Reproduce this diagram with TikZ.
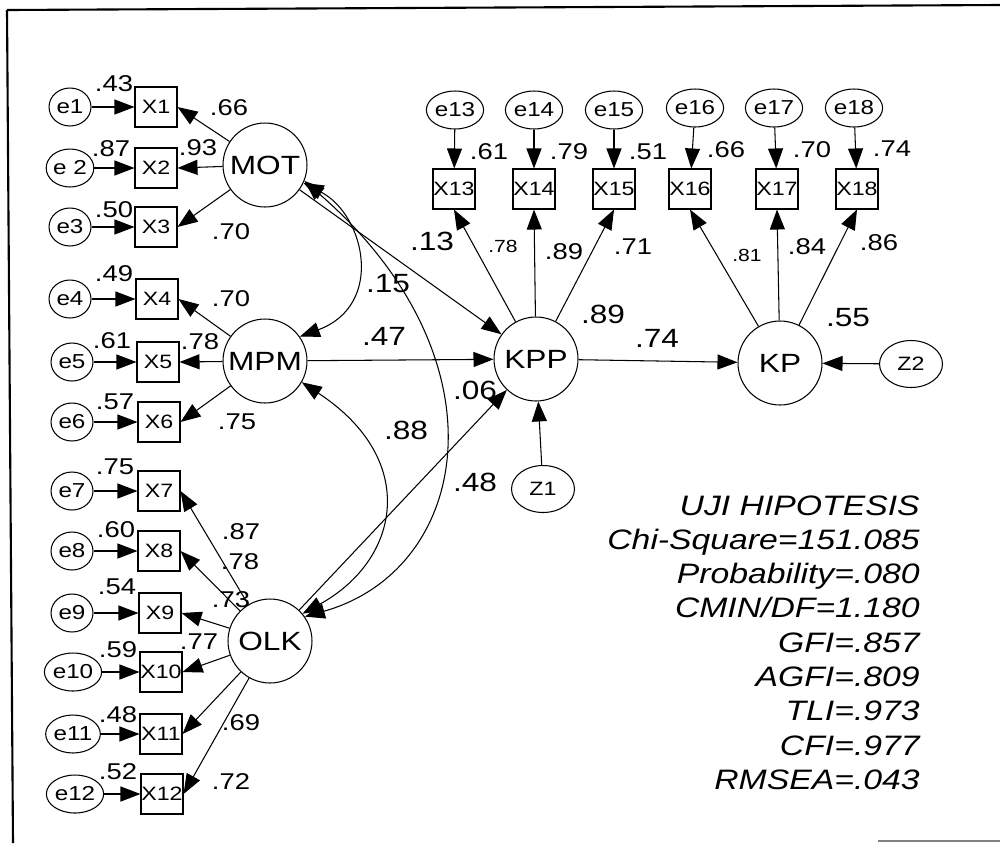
\documentclass[tikz,border=0pt]{standalone}
\usepackage{fontspec}
\setmainfont{Liberation Sans}[FakeStretch=1.2]
\usetikzlibrary{arrows.meta,shapes.geometric}

\tikzset{
  latent/.style={draw, circle, line width=0.6pt, minimum size=1.68cm, inner sep=0pt, font=\fontsize{15}{15}\selectfont},
  err/.style={draw, ellipse, line width=0.6pt, minimum width=0.84cm, minimum height=0.76cm, inner sep=0pt, font=\fontsize{11.5}{11.5}\selectfont},
  obs/.style={draw, rectangle, line width=0.6pt, minimum width=0.84cm, minimum height=0.8cm, inner sep=0pt, font=\fontsize{11}{11}\selectfont},
  dist/.style={draw, ellipse, line width=0.6pt, minimum width=1.26cm, minimum height=0.94cm, inner sep=0pt, font=\fontsize{11}{11}\selectfont},
  reg/.style={->, line width=0.6pt},
  cov/.style={<->, line width=0.6pt},
  loadlab/.style={font=\fontsize{13}{13}\selectfont, inner sep=0pt},
  coeflab/.style={font=\fontsize{15}{15}\selectfont, inner sep=0pt},
  smalllab/.style={font=\fontsize{10}{10}\selectfont, inner sep=0pt},
  fitstat/.style={font=\fontsize{16}{16}\selectfont\itshape, inner sep=0pt, anchor=base east}
}

\begin{document}
\begin{tikzpicture}[x=0.02cm, y=-0.02cm, >={Triangle[length=4mm,width=3mm]}]
    \useasboundingbox (0,0) rectangle (1000,843);

    % frame
    \draw[line width=1.2pt] (7,10) -- (1000,5);
    \draw[line width=1.2pt] (7,10) -- (13,843);
    \draw[gray, line width=1pt] (878,841) -- (1000,841);

    % latent variables
    \node[latent] (MOT) at (265,165) {MOT};
    \node[latent] (MPM) at (265,361) {MPM};
    \node[latent] (OLK) at (270,641) {OLK};
    \node[latent] (KPP) at (536,359) {KPP};
    \node[latent] (KP)  at (780,363) {KP};
    \node[dist] (Z1) at (543,489) {Z1};
    \node[dist] (Z2) at (911,364) {Z2};

    % left indicators with errors
    \foreach \i/\t/\ex/\xx/\y in {1/e1/70/156/107, 2/e 2/70/156/168, 3/e3/70/156/227,
        4/e4/70/157/299, 5/e5/72/158/362, 6/e6/72/159/422, 7/e7/72/159/491,
        8/e8/72/159/551, 9/e9/72/160/613, 10/e10/73/161/672, 11/e11/73/161/734,
        12/e12/75/162/794} {
        \node[err] (e\i) at (\ex,\y) {\t};
        \node[obs] (X\i) at (\xx,\y) {X\i};
        \draw[reg] (e\i) -- (X\i);
    }

    % top indicators with errors
    \foreach \i/\ex/\xx/\ey in {13/455/454/110, 14/534/534/110, 15/614/614/110,
        16/695/690/108, 17/774/777/108, 18/854/857/108} {
        \node[err] (e\i) at (\ex,\ey) {e\i};
        \node[obs] (X\i) at (\xx,189) {X\i};
        \draw[reg] (e\i) -- (X\i);
    }

    % loadings
    \foreach \f/\i in {MOT/1, MOT/2, MOT/3, MPM/4, MPM/5, MPM/6,
        OLK/7, OLK/8, OLK/9, OLK/10, OLK/11, OLK/12} {
        \draw[reg] (\f) -- (X\i.east);
    }
    \foreach \i in {13,14,15} {
        \draw[reg] (KPP) -- (X\i.south);
    }
    \foreach \i in {16,17,18} {
        \draw[reg] (KP) -- (X\i.south);
    }

    % structural paths
    \draw[reg] (MOT) -- (KPP);
    \draw[reg] (MPM) -- (KPP);
    \draw[reg] (OLK) -- (KPP);
    \draw[reg] (KPP) -- (KP);
    \draw[reg] (Z1) -- (KPP);
    \draw[reg] (Z2) -- (KP);

    % covariances
    \draw[cov] (MOT.-25) .. controls (365,215) and (385,305) .. (MPM.35);
    \draw[cov] (MOT.-22) .. controls (510,360) and (470,570) .. (OLK.35);
    \draw[cov] (MPM.-30) .. controls (420,460) and (400,560) .. (OLK.40);

    % squared multiple correlations
    \foreach \n/\x/\y/\t in {r1/114/84/.43, r2/111/149/.87, r3/114/210/.50,
        r4/114/274/.49, r5/112/341/.61, r6/115/402/.57, r7/115/467/.75,
        r8/116/530/.60, r9/117/587/.54, r10/118/650/.59, r11/118/715/.48,
        r12/118/772/.52, r13/489/152/.61, r14/569/152/.79, r15/648/152/.51,
        r16/726/150/.66, r17/812/150/.70, r18/892/149/.74} {
        \node[loadlab] (\n) at (\x,\y) {\t};
    }

    % loading weights
    \foreach \n/\x/\y/\t in {w1/229/108/.66, w2/198/148/.93, w3/231/232/.70,
        w4/231/299/.70, w5/200/342/.78, w6/237/422/.75, w7/241/532/.87,
        w8/240/562/.78, w9/231/600/.73, w10/199/642/.77, w11/241/723/.69,
        w12/231/782/.72, w14/564/252/.89, w15/633/247/.71, w17/807/247/.84,
        w18/879/243/.86} {
        \node[loadlab] (\n) at (\x,\y) {\t};
    }
    \node[smalllab] (w13) at (503,246) {.78};
    \node[smalllab] (w16) at (747,255) {.81};

    % structural estimates
    \foreach \n/\x/\y/\t in {pMK/432/241/.13, cMO/388/284/.15, pPK/384/336/.47,
        rKPP/603/314/.89, pKK/657/338/.74, rKP/848/318/.55, pOK/475/390/.06,
        cPO/406/430/.88, cMP/475/482/.48} {
        \node[coeflab] (\n) at (\x,\y) {\t};
    }

    % fit statistics
    \foreach \t [count=\i] in {UJI HIPOTESIS, Chi-Square=151.085, Probability=.080,
        CMIN/DF=1.180, GFI=.857, AGFI=.809, TLI=.973, CFI=.977, RMSEA=.043} {
        \node[fitstat] (s\i) at (920,{515+34.3*(\i-1)}) {\t};
    }
\end{tikzpicture}
\end{document}
